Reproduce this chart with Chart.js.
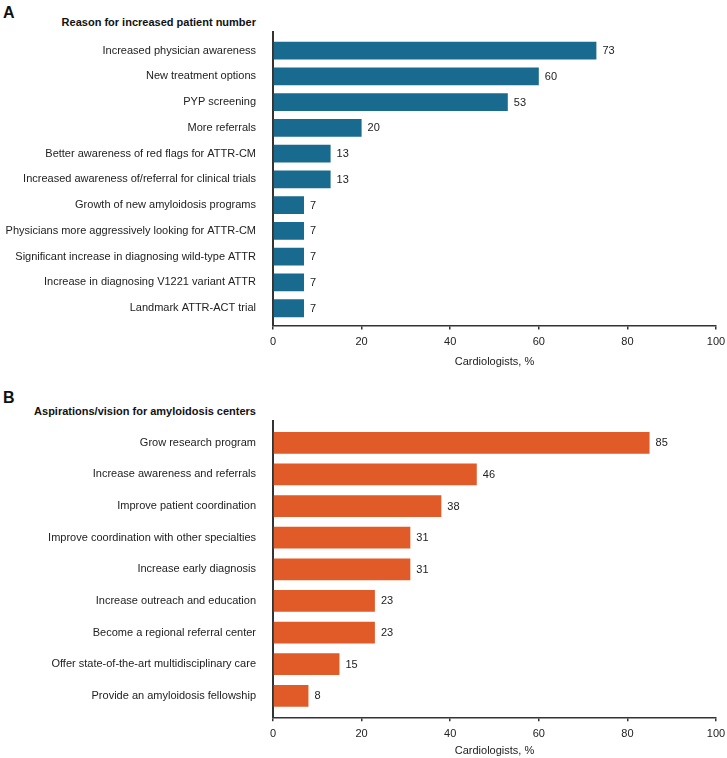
<!DOCTYPE html>
<html>
<head>
<meta charset="utf-8">
<script src="https://cdn.jsdelivr.net/npm/chart.js@4"></script>
<style>
  body { margin: 0; background: #fff; font-family: "Liberation Sans", Arial, sans-serif; }
  #page { position: relative; width: 727px; height: 758px; overflow: hidden; }
  .panel-letter { position: absolute; left: 3px; font-size: 16px; line-height: 16px; font-weight: bold; color: #111; }
  .panel-title { position: absolute; right: 471px; font-size: 11px; line-height: 11px; font-weight: bold; color: #111; white-space: nowrap; }
  .chart-box { position: absolute; left: 0; width: 727px; }
</style>
</head>
<body>
<div id="page">
  <div class="panel-letter" style="top:5px">A</div>
  <div class="panel-title" style="top:17px">Reason for increased patient number</div>
  <div class="chart-box" style="top:0;height:369px"><canvas id="chart-a"></canvas></div>

  <div class="panel-letter" style="top:390px">B</div>
  <div class="panel-title" style="top:406px">Aspirations/vision for amyloidosis centers</div>
  <div class="chart-box" style="top:390px;height:368px"><canvas id="chart-b"></canvas></div>
</div>

<script>
// Panel A data
const reasonLabels = [
  "Increased physician awareness",
  "New treatment options",
  "PYP screening",
  "More referrals",
  "Better awareness of red flags for ATTR-CM",
  "Increased awareness of/referral for clinical trials",
  "Growth of new amyloidosis programs",
  "Physicians more aggressively looking for ATTR-CM",
  "Significant increase in diagnosing wild-type ATTR",
  "Increase in diagnosing V1221 variant ATTR",
  "Landmark ATTR-ACT trial",
];
const reasonValues = [73, 60, 53, 20, 13, 13, 7, 7, 7, 7, 7];

// Panel B data
const aspirationLabels = [
  "Grow research program",
  "Increase awareness and referrals",
  "Improve patient coordination",
  "Improve coordination with other specialties",
  "Increase early diagnosis",
  "Increase outreach and education",
  "Become a regional referral center",
  "Offer state-of-the-art multidisciplinary care",
  "Provide an amyloidosis fellowship",
];
const aspirationValues = [85, 46, 38, 31, 31, 23, 23, 15, 8];

const xTickValues = [0, 20, 40, 60, 80, 100];
const xAxisTitle = "Cardiologists, %";

const FONT = '"Liberation Sans", Arial, sans-serif';
const TEXT = "#222";
const AXIS = "#333";

// value labels next to each bar
const valueLabels = {
  id: "valueLabels",
  afterDatasetsDraw(chart) {
    const { ctx } = chart;
    const meta = chart.getDatasetMeta(0);
    const data = chart.data.datasets[0].data;
    ctx.save();
    ctx.font = "11px " + FONT;
    ctx.fillStyle = TEXT;
    ctx.textAlign = "left";
    ctx.textBaseline = "middle";
    meta.data.forEach((bar, i) => {
      ctx.fillText(String(data[i].x), bar.x + 6, bar.y + 0.5);
    });
    ctx.restore();
  },
};

function makeChart(canvasId, labels, values, color, opts) {
  const ctx = document.getElementById(canvasId);
  return new Chart(ctx, {
    type: "bar",
    data: {
      datasets: [
        {
          data: values.map((v, i) => ({ x: v, y: i })),
          backgroundColor: color,
          borderWidth: 0,
          barPercentage: 0.69,
          categoryPercentage: 1,
        },
      ],
    },
    plugins: [valueLabels],
    options: {
      indexAxis: "y",
      responsive: true,
      maintainAspectRatio: false,
      animation: false,
      layout: { padding: { top: opts.padTop, right: 11, left: 0, bottom: 0 } },
      scales: {
        y: {
          type: "linear",
          reverse: true,
          offset: false,
          min: opts.yMin,
          max: opts.yMax,
          afterBuildTicks: (scale) => {
            scale.ticks = labels.map((_, i) => ({ value: i }));
          },
          afterFit: (scale) => {
            scale.width = 273;
          },
          grid: { display: false, drawTicks: false, offset: false },
          border: { display: true, color: AXIS, width: 2 },
          ticks: {
            padding: 17,
            color: TEXT,
            font: { family: FONT, size: 11 },
            callback: (v) => labels[v],
          },
        },
        x: {
          type: "linear",
          min: 0,
          max: 100,
          afterBuildTicks: (scale) => {
            scale.ticks = xTickValues.map((v) => ({ value: v }));
          },
          afterFit: (scale) => {
            scale.height = opts.xHeight;
            // keep the plot right edge at the layout padding
            scale.paddingLeft = 0;
            scale.paddingRight = 0;
          },
          grid: {
            display: true,
            drawOnChartArea: false,
            drawTicks: true,
            tickLength: 4,
            color: AXIS,
            lineWidth: 1.5,
          },
          border: { display: true, color: AXIS, width: 1.5 },
          ticks: {
            padding: 6,
            maxRotation: 0,
            color: TEXT,
            font: { family: FONT, size: 11 },
          },
          title: {
            display: true,
            text: xAxisTitle,
            color: TEXT,
            font: { family: FONT, size: 11 },
            padding: { top: 4, bottom: 0 },
          },
        },
      },
      plugins: {
        legend: { display: false },
        tooltip: { enabled: false },
      },
    },
  });
}

makeChart("chart-a", reasonLabels, reasonValues, "#196a8f", {
  padTop: 32,
  yMin: -0.72,
  yMax: 10.67,
  xHeight: 43.5,
});

makeChart("chart-b", aspirationLabels, aspirationValues, "#e05b27", {
  padTop: 30.7,
  yMin: -0.7,
  yMax: 8.68,
  xHeight: 40.7,
});
</script>
</body>
</html>
